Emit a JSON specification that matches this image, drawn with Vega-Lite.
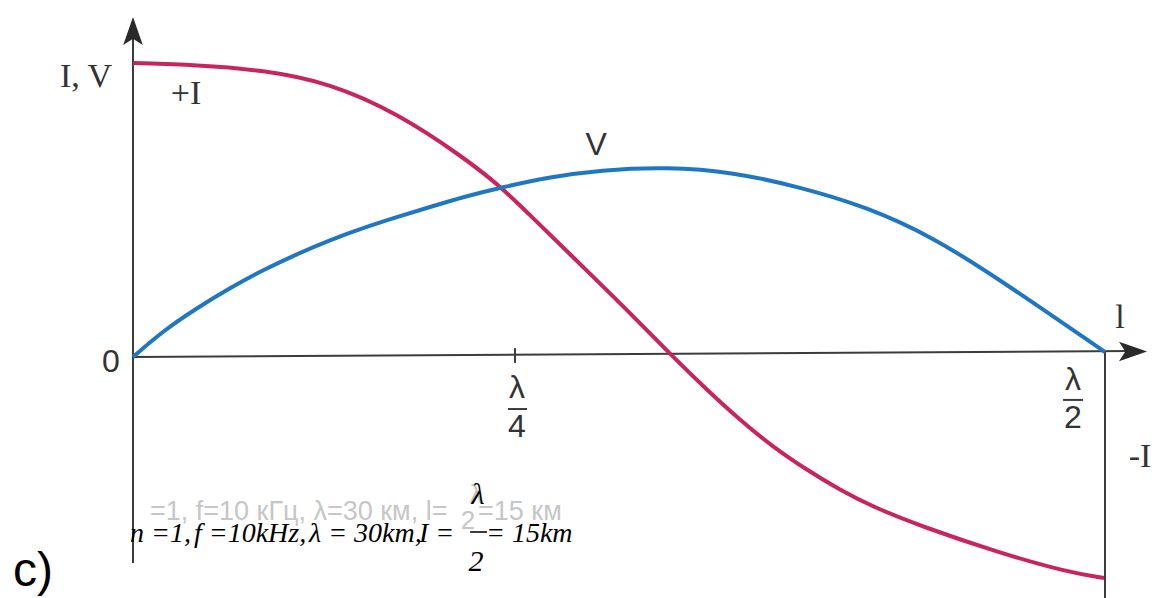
{
  "$schema": "https://vega.github.io/schema/vega-lite/v6.json",
  "width": 1156,
  "height": 598,
  "autosize": {"type": "none"},
  "padding": 0,
  "background": "white",
  "config": {"view": {"stroke": null}},
  "datasets": {
    "curves": [
      {"series": "I", "x": 0.0, "y": 1.0},
      {"series": "I", "x": 0.0329, "y": 0.9932},
      {"series": "I", "x": 0.0669, "y": 0.9762},
      {"series": "I", "x": 0.1013, "y": 0.932},
      {"series": "I", "x": 0.1358, "y": 0.8299},
      {"series": "I", "x": 0.1698, "y": 0.6803},
      {"series": "I", "x": 0.1888, "y": 0.5816},
      {"series": "I", "x": 0.2042, "y": 0.483},
      {"series": "I", "x": 0.2315, "y": 0.3061},
      {"series": "I", "x": 0.2557, "y": 0.1497},
      {"series": "I", "x": 0.2778, "y": 0.0},
      {"series": "I", "x": 0.2953, "y": -0.1122},
      {"series": "I", "x": 0.3122, "y": -0.2143},
      {"series": "I", "x": 0.3292, "y": -0.3061},
      {"series": "I", "x": 0.3467, "y": -0.3844},
      {"series": "I", "x": 0.3637, "y": -0.4524},
      {"series": "I", "x": 0.3807, "y": -0.5102},
      {"series": "I", "x": 0.4064, "y": -0.5782},
      {"series": "I", "x": 0.446, "y": -0.6667},
      {"series": "I", "x": 0.4805, "y": -0.7313},
      {"series": "I", "x": 0.4995, "y": -0.7517},
      {"series": "V", "x": 0.0, "y": 0.0},
      {"series": "V", "x": 0.0154, "y": 0.0884},
      {"series": "V", "x": 0.0329, "y": 0.1667},
      {"series": "V", "x": 0.0499, "y": 0.2347},
      {"series": "V", "x": 0.0669, "y": 0.2959},
      {"series": "V", "x": 0.0844, "y": 0.3503},
      {"series": "V", "x": 0.1013, "y": 0.398},
      {"series": "V", "x": 0.1183, "y": 0.4388},
      {"series": "V", "x": 0.1358, "y": 0.4762},
      {"series": "V", "x": 0.1528, "y": 0.5102},
      {"series": "V", "x": 0.1698, "y": 0.5442},
      {"series": "V", "x": 0.1903, "y": 0.5782},
      {"series": "V", "x": 0.2145, "y": 0.6122},
      {"series": "V", "x": 0.2402, "y": 0.6361},
      {"series": "V", "x": 0.2747, "y": 0.6463},
      {"series": "V", "x": 0.3086, "y": 0.6293},
      {"series": "V", "x": 0.3431, "y": 0.5782},
      {"series": "V", "x": 0.3776, "y": 0.5102},
      {"series": "V", "x": 0.4115, "y": 0.4082},
      {"series": "V", "x": 0.446, "y": 0.2619},
      {"series": "V", "x": 0.4805, "y": 0.1054},
      {"series": "V", "x": 0.5, "y": 0.017}
    ],
    "rules": [
      {"part": "y axis", "x": 0, "y": 1.12, "x2": 0, "y2": -0.701},
      {"part": "x axis", "x": 0, "y": 0, "x2": 0.513, "y2": 0.0204},
      {"part": "right edge", "x": 0.5, "y": 0.017, "x2": 0.5, "y2": -0.83},
      {"part": "quarter tick", "x": 0.1965, "y": 0.03, "x2": 0.1965, "y2": -0.02},
      {"part": "bar λ/4", "x": 0.1929, "y": -0.177, "x2": 0.2027, "y2": -0.177},
      {"part": "bar λ/2", "x": 0.4784, "y": -0.146, "x2": 0.4887, "y2": -0.146},
      {"part": "bar formula", "x": 0.1734, "y": -0.5952, "x2": 0.1821, "y2": -0.5952}
    ],
    "arrowUp": [{"x": 0, "y": 1.109}],
    "arrowRight": [{"x": 0.5144, "y": 0.0185}],
    "serifLabels": [
      {"label": "I, V", "x": -0.02418, "y": 0.9524},
      {"label": "+I", "x": 0.02726, "y": 0.8946},
      {"label": "l", "x": 0.5077, "y": 0.1327},
      {"label": "-I", "x": 0.518, "y": -0.3401}
    ],
    "sansLabels": [
      {"label": "V", "x": 0.2382, "y": 0.7211},
      {"label": "0", "x": -0.01132, "y": -0.017},
      {"label": "λ", "x": 0.1975, "y": -0.1054},
      {"label": "4", "x": 0.1975, "y": -0.2381},
      {"label": "λ", "x": 0.4835, "y": -0.0782},
      {"label": "2", "x": 0.4835, "y": -0.2075}
    ],
    "panel": [{"label": "c)", "x": -0.05144, "y": -0.7313}],
    "grayLeft": [
      {"label": "=1,  f=10 кГц,  λ=30 км,  l=", "x": 0.00875, "y": -0.5272},
      {"label": "=15 км", "x": 0.1775, "y": -0.5272}
    ],
    "grayCenter": [
      {"label": "λ", "x": 0.1764, "y": -0.4694},
      {"label": "2", "x": 0.1723, "y": -0.5578}
    ],
    "formulaLeft": [
      {"label": "n =1,", "x": -0.00154, "y": -0.6293},
      {"label": "f =10kHz,", "x": 0.03138, "y": -0.6293},
      {"label": "λ = 30km,", "x": 0.09053, "y": -0.6293},
      {"label": "I =", "x": 0.14712, "y": -0.6293},
      {"label": "= 15km", "x": 0.18158, "y": -0.6293}
    ],
    "formulaCenter": [
      {"label": "λ", "x": 0.1775, "y": -0.4694},
      {"label": "2", "x": 0.1764, "y": -0.6973}
    ]
  },
  "encoding": {
    "x": {"field": "x", "type": "quantitative", "scale": {"domain": [-0.06842, 0.52623], "nice": false, "zero": false}, "axis": null},
    "y": {"field": "y", "type": "quantitative", "scale": {"domain": [-0.81973, 1.21429], "nice": false, "zero": false}, "axis": null}
  },
  "layer": [
    {
      "data": {"name": "grayLeft"},
      "mark": {"type": "text", "align": "left", "baseline": "middle", "font": "Liberation Sans", "fontSize": 27, "color": "#c6c6c6"},
      "encoding": {"text": {"field": "label"}}
    },
    {
      "data": {"name": "grayCenter"},
      "mark": {"type": "text", "align": "center", "baseline": "middle", "font": "Liberation Sans", "fontSize": 26, "color": "#c6c6c6"},
      "encoding": {"text": {"field": "label"}}
    },
    {
      "data": {"name": "rules"},
      "mark": {"type": "rule", "color": "#3c3c3c", "strokeWidth": 2},
      "encoding": {"x2": {"field": "x2"}, "y2": {"field": "y2"}}
    },
    {
      "data": {"name": "arrowUp"},
      "mark": {"type": "point", "filled": true, "opacity": 1, "color": "#2a2a2a", "size": 784, "shape": "M0,-1L0.7,1L0,0.55L-0.7,1Z"},
      "encoding": {}
    },
    {
      "data": {"name": "arrowRight"},
      "mark": {"type": "point", "filled": true, "opacity": 1, "color": "#2a2a2a", "size": 784, "shape": "M1,0L-1,-0.7L-0.55,0L-1,0.7Z"},
      "encoding": {}
    },
    {
      "data": {"name": "curves"},
      "mark": {"type": "line", "strokeWidth": 4, "interpolate": "basis"},
      "encoding": {
        "color": {"field": "series", "type": "nominal", "scale": {"domain": ["I", "V"], "range": ["#c8245f", "#1f77c4"]}, "legend": null},
        "order": {"field": "x", "type": "quantitative"}
      }
    },
    {
      "data": {"name": "serifLabels"},
      "mark": {"type": "text", "align": "center", "baseline": "middle", "font": "Liberation Serif", "fontSize": 34, "color": "#333333"},
      "encoding": {"text": {"field": "label"}}
    },
    {
      "data": {"name": "sansLabels"},
      "mark": {"type": "text", "align": "center", "baseline": "middle", "font": "Liberation Sans", "fontSize": 32, "color": "#333333"},
      "encoding": {"text": {"field": "label"}}
    },
    {
      "data": {"name": "panel"},
      "mark": {"type": "text", "align": "center", "baseline": "middle", "font": "Liberation Sans", "fontSize": 48, "color": "#000000"},
      "encoding": {"text": {"field": "label"}}
    },
    {
      "data": {"name": "formulaLeft"},
      "mark": {"type": "text", "align": "left", "baseline": "alphabetic", "font": "Liberation Serif", "fontStyle": "italic", "fontSize": 28, "color": "#000000"},
      "encoding": {"text": {"field": "label"}}
    },
    {
      "data": {"name": "formulaCenter"},
      "mark": {"type": "text", "align": "center", "baseline": "middle", "font": "Liberation Serif", "fontStyle": "italic", "fontSize": 30, "color": "#000000"},
      "encoding": {"text": {"field": "label"}}
    }
  ]
}
